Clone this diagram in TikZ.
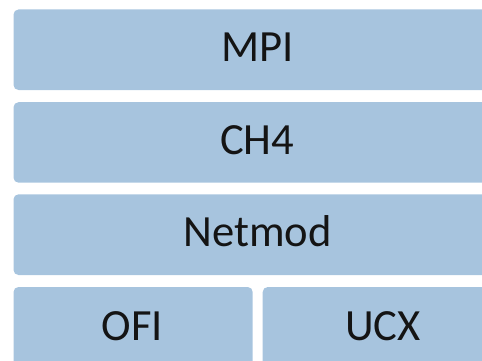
\documentclass[tikz,border=0pt]{standalone}
\usepackage{fontspec}
\setmainfont{Carlito}
\definecolor{layerblue}{RGB}{167,196,222}
\definecolor{layertext}{RGB}{20,20,20}
\begin{document}
\begin{tikzpicture}[x=1pt,y=-1pt,
  layer/.style={fill=layerblue, draw=none, rounded corners=5pt},
  layerlabel/.style={anchor=base, inner sep=0pt, text=layertext,
    font=\fontsize{44.6}{48}\selectfont}]
  \useasboundingbox (0,0) rectangle (482,361);
  \clip (0,0) rectangle (482,361);
  % stacked layers, wider than the visible frame on the right and bottom
  \path[layer] (13.5,9.5) rectangle (501,90) coordinate (mpiC);
  \path[layer] (13.5,102.2) rectangle (501,182.7);
  \path[layer] (13.5,194.3) rectangle (501,275);
  \path[layer] (13.5,287) rectangle (252.7,370);
  \path[layer] (262.7,287) rectangle (503,370);
  % labels
  \node[layerlabel] (mpi) at (257.3,62) {MPI};
  \node[layerlabel] (ch4) at (257.3,154.8) {CH4};
  \node[layerlabel] (netmod) at (257.5,246.7) {Netmod};
  \node[layerlabel] (ofi) at (132.5,340) {OFI};
  \node[layerlabel] (ucx) at (383,340) {UCX};
\end{tikzpicture}
\end{document}
